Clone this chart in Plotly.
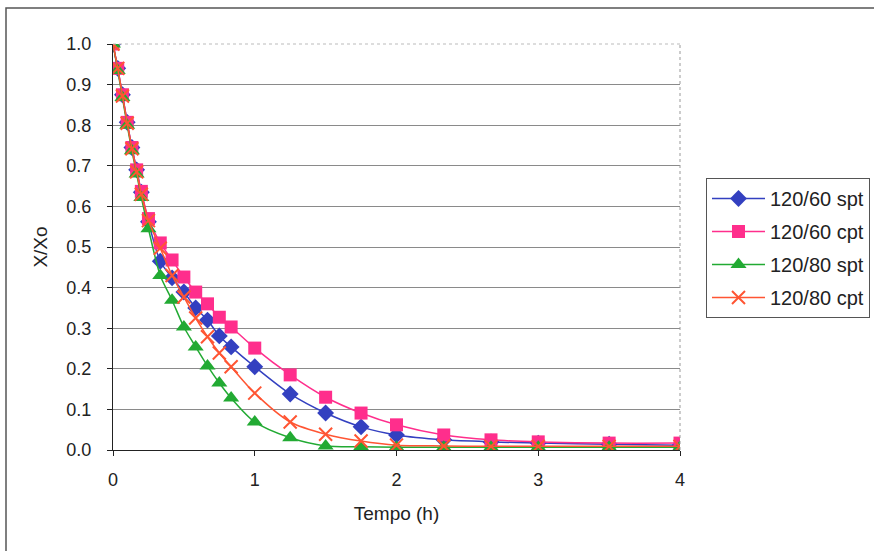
import plotly.graph_objects as go

# time in hours (minutes / 60)
minutes = [0, 2, 4, 6, 8, 10, 12, 15, 20, 25, 30, 35, 40, 45, 50, 60, 75, 90, 105, 120, 140, 160, 180, 210, 240]
tempo = [m / 60 for m in minutes]

s60_spt = [1.0, 0.94, 0.875, 0.807, 0.745, 0.69, 0.635, 0.562, 0.465, 0.424, 0.389, 0.35, 0.32, 0.281, 0.254,
           0.205, 0.138, 0.091, 0.057, 0.037, 0.025, 0.02, 0.017, 0.014, 0.012]
s60_cpt = [1.0, 0.94, 0.875, 0.807, 0.745, 0.69, 0.637, 0.57, 0.51, 0.468, 0.426, 0.389, 0.36, 0.327, 0.303,
           0.251, 0.185, 0.13, 0.091, 0.062, 0.037, 0.025, 0.02, 0.017, 0.017]
s80_spt = [1.0, 0.935, 0.868, 0.8, 0.737, 0.68, 0.622, 0.545, 0.43, 0.369, 0.303, 0.254, 0.207, 0.165, 0.128,
           0.069, 0.03, 0.01, 0.008, 0.007, 0.007, 0.007, 0.007, 0.007, 0.007]
s80_cpt = [1.0, 0.94, 0.872, 0.805, 0.742, 0.685, 0.63, 0.565, 0.497, 0.43, 0.377, 0.325, 0.279, 0.239, 0.205,
           0.14, 0.069, 0.039, 0.022, 0.012, 0.01, 0.009, 0.009, 0.009, 0.009]

names = ["120/60 spt", "120/60 cpt", "120/80 spt", "120/80 cpt"]
series = [s60_spt, s60_cpt, s80_spt, s80_cpt]
colors = ["#3340C0", "#FF2E8C", "#22AA33", "#FF5533"]
symbols = ["diamond", "square", "triangle-up", "x-thin"]
sizes = [13, 13, 14, 13]

fig = go.Figure()
for i, (n, s, c, sym, sz) in enumerate(zip(names, series, colors, symbols, sizes)):
    marker = dict(symbol=sym, size=sz, color=c)
    if sym == "x-thin":
        marker["line"] = dict(color=c, width=2)
    else:
        marker["line"] = dict(width=0)
    fig.add_trace(go.Scatter(
        x=tempo, y=s, name=n, mode="lines+markers", legendgroup=f"g{i}",
        line=dict(color=c, width=1.5, shape="spline", smoothing=0.8),
        marker=marker,
    ))

L, R, T, B = 113, 194, 44, 101
W, H = 874, 551
pw, ph = W - L - R, H - T - B

def px(xp):
    return (xp - L) / pw

def py(yp):
    return (H - B - yp) / ph

fig.update_layout(
    width=W, height=H,
    margin=dict(l=L, r=R, t=T, b=B, pad=0, autoexpand=False),
    paper_bgcolor="white", plot_bgcolor="white",
    font=dict(family="Liberation Sans, Arial, sans-serif", size=17, color="#222222"),
    showlegend=True,
    legend=dict(
        xref="container", yref="container",
        x=706 / W, y=1 - 178 / H, xanchor="left", yanchor="top",
        bordercolor="#555555", borderwidth=1, bgcolor="white",
        font=dict(size=20, color="#222222"),
        tracegroupgap=4, itemwidth=53,
    ),
    xaxis=dict(
        range=[0, 4], tickvals=[0, 1, 2, 3, 4], ticktext=["0", "1", "2", "3", "4"],
        showgrid=False, zeroline=False, showline=True, linecolor="#222222", linewidth=1,
        ticks="outside", ticklen=5, tickcolor="#222222", ticklabelstandoff=8,
        tickfont=dict(size=18),
        title=dict(text="Tempo (h)", standoff=18, font=dict(size=19)),
    ),
    yaxis=dict(
        range=[0, 1.0], tickvals=[i / 10 for i in range(11)], tickformat=".1f",
        showgrid=True, gridcolor="#8A8A8A", gridwidth=1, zeroline=False,
        showline=True, linecolor="#222222", linewidth=1,
        ticks="outside", ticklen=5, tickcolor="#222222", ticklabelstandoff=12,
        tickfont=dict(size=18),
        title=dict(text="X/Xo", standoff=13, font=dict(size=19)),
    ),
    shapes=[
        dict(type="rect", xref="paper", yref="paper", x0=px(6), x1=px(880), y0=py(8), y1=py(560),
             line=dict(color="#555555", width=1.5), fillcolor="rgba(0,0,0,0)", layer="below"),
        dict(type="line", xref="paper", yref="paper", x0=1, x1=1, y0=0, y1=1,
             line=dict(color="#999999", width=1, dash="dot")),
        dict(type="line", xref="paper", yref="paper", x0=0, x1=1, y0=1, y1=1,
             line=dict(color="#BBBBBB", width=1, dash="dot")),
    ],
)

fig.write_html("out.html")
